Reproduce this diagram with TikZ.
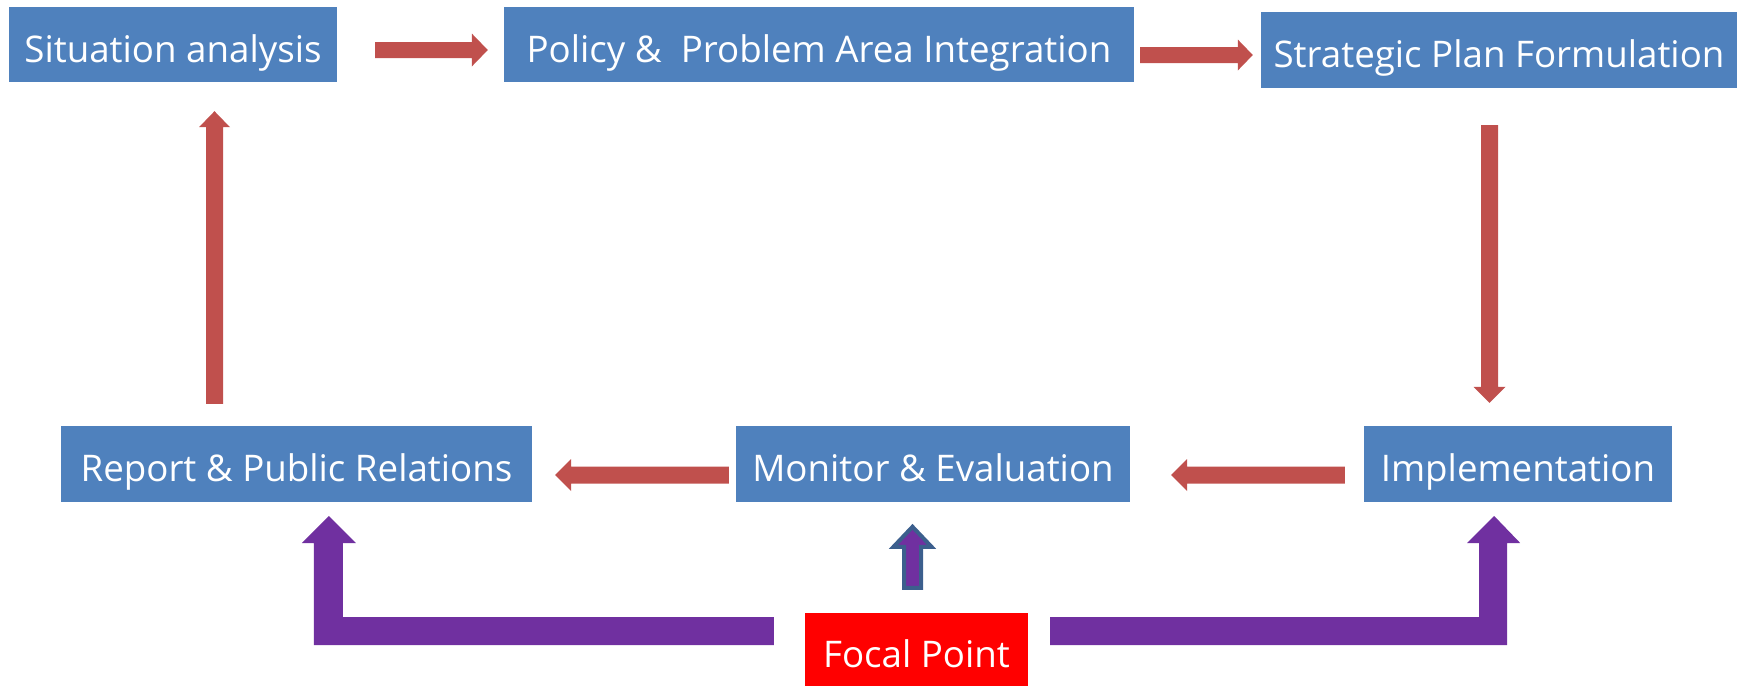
\documentclass[tikz,border=0pt]{standalone}
\usepackage{fontspec}
\setmainfont{Open Sans}
\usetikzlibrary{calc}
\definecolor{boxblue}{HTML}{4F81BD}
\definecolor{arrred}{HTML}{C0504D}
\definecolor{arrpurple}{HTML}{7030A0}
\definecolor{outlineblue}{HTML}{3C5F8D}
\definecolor{focalred}{HTML}{FF0000}
% #1 colour, #2 start, #3 tip, #4 half shaft, #5 head length, #6 half head
\newcommand\blockarrow[6]{%
  \fill[#1] let \p1=(#2), \p2=(#3),
    \n1={veclen(\x2-\x1,\y2-\y1)}, \n2={atan2(\y2-\y1,\x2-\x1)},
    \n3={cos(\n2)}, \n4={sin(\n2)}, \n5={\n1-#5} in
    ({\x1-(#4)*(\n4)},{\y1+(#4)*(\n3)})
    -- ({\x1+(\n5)*(\n3)-(#4)*(\n4)},{\y1+(\n5)*(\n4)+(#4)*(\n3)})
    -- ({\x1+(\n5)*(\n3)-(#6)*(\n4)},{\y1+(\n5)*(\n4)+(#6)*(\n3)})
    -- (\x2,\y2)
    -- ({\x1+(\n5)*(\n3)+(#6)*(\n4)},{\y1+(\n5)*(\n4)-(#6)*(\n3)})
    -- ({\x1+(\n5)*(\n3)+(#4)*(\n4)},{\y1+(\n5)*(\n4)-(#4)*(\n3)})
    -- ({\x1+(#4)*(\n4)},{\y1-(#4)*(\n3)})
    -- cycle;}
\tikzset{
  stagebox/.style={fill=boxblue, text=white, inner sep=0pt, font=\fontsize{36.7}{40}\selectfont,
    text height=35pt, text depth=0pt, anchor=center},
  focalbox/.style={stagebox, fill=focalred},
}
\begin{document}
\begin{tikzpicture}[x=1pt,y=-1pt]
\useasboundingbox (0,0) rectangle (1740,686);
\node[stagebox, minimum width=328pt, minimum height=75pt] (sit) at (173,44.5) {Situation analysis};
\node[stagebox, minimum width=630pt, minimum height=75pt] (pol) at (819,44.5) {Policy \&\ \ Problem Area Integration};
\node[stagebox, minimum width=476pt, minimum height=76pt] (str) at (1499,50) {Strategic Plan Formulation};
\node[stagebox, minimum width=308pt, minimum height=76pt] (imp) at (1518,464) {Implementation};
\node[stagebox, minimum width=394pt, minimum height=76pt] (mon) at (933,464) {Monitor \& Evaluation};
\node[stagebox, minimum width=471pt, minimum height=76pt] (rep) at (296.5,464) {Report \& Public Relations};
\node[focalbox, minimum width=223pt, minimum height=73pt] (foc) at (916.5,649.5) {Focal Point};

% red flow arrows
\coordinate (a1s) at ($(sit.east)+(38,5.5)$);
\coordinate (a1e) at ($(pol.west)+(-16,5.5)$);
\coordinate (a2s) at ($(pol.east)+(6,10.5)$);
\coordinate (a2e) at ($(str.west)+(-8,5)$);
\coordinate (a3s) at ($(str.south)+(-9.5,37)$);
\coordinate (a3e) at ($(imp.north)+(-28.5,-23)$);
\coordinate (a4s) at ($(imp.west)+(-19,11)$);
\coordinate (a4e) at ($(mon.east)+(41,11)$);
\coordinate (a5s) at ($(mon.west)+(-7,11)$);
\coordinate (a5e) at ($(rep.east)+(23,11)$);
\coordinate (a6s) at ($(rep.north)+(-82,-22)$);
\coordinate (a6e) at ($(sit.south)+(41.5,29)$);
\blockarrow{arrred}{a1s}{a1e}{8}{16}{16.5}
\blockarrow{arrred}{a2s}{a2e}{8}{15}{15.5}
\blockarrow{arrred}{a3s}{a3e}{8.5}{16}{16}
\blockarrow{arrred}{a4s}{a4e}{8.5}{16}{16}
\blockarrow{arrred}{a5s}{a5e}{8.5}{16}{16}
\blockarrow{arrred}{a6s}{a6e}{8.5}{16}{15.5}

% purple L-shaped arrows from the focal point
\coordinate (lend) at ($(foc.west)+(-31,-18.5)$);
\coordinate (rend) at ($(foc.east)+(22,-18.5)$);
\fill[arrpurple] (lend) ++(0,-14) -- ++(-431,0) -- ++(0,-74) -- ++(13,0) -- ++(-27,-27)
  -- ++(-27,27) -- ++(12,0) -- ++(0,102) -- ++(460,0) -- cycle;
\fill[arrpurple] (rend) ++(0,-14) -- ++(429,0) -- ++(0,-74) -- ++(-12,0) -- ++(27,-27)
  -- ++(26,27) -- ++(-13,0) -- ++(0,102) -- ++(-457,0) -- cycle;

% small up arrow to monitor
\coordinate (cbot) at ($(foc.north)+(-4,-25)$);
\filldraw[fill=arrpurple, draw=outlineblue, line width=4pt, line join=miter]
  (cbot) ++(-8.5,0) -- ++(0,-41) -- ++(-10.5,0) -- ++(19,-20) -- ++(19,20)
  -- ++(-10.5,0) -- ++(0,41) -- cycle;
\end{tikzpicture}
\end{document}
